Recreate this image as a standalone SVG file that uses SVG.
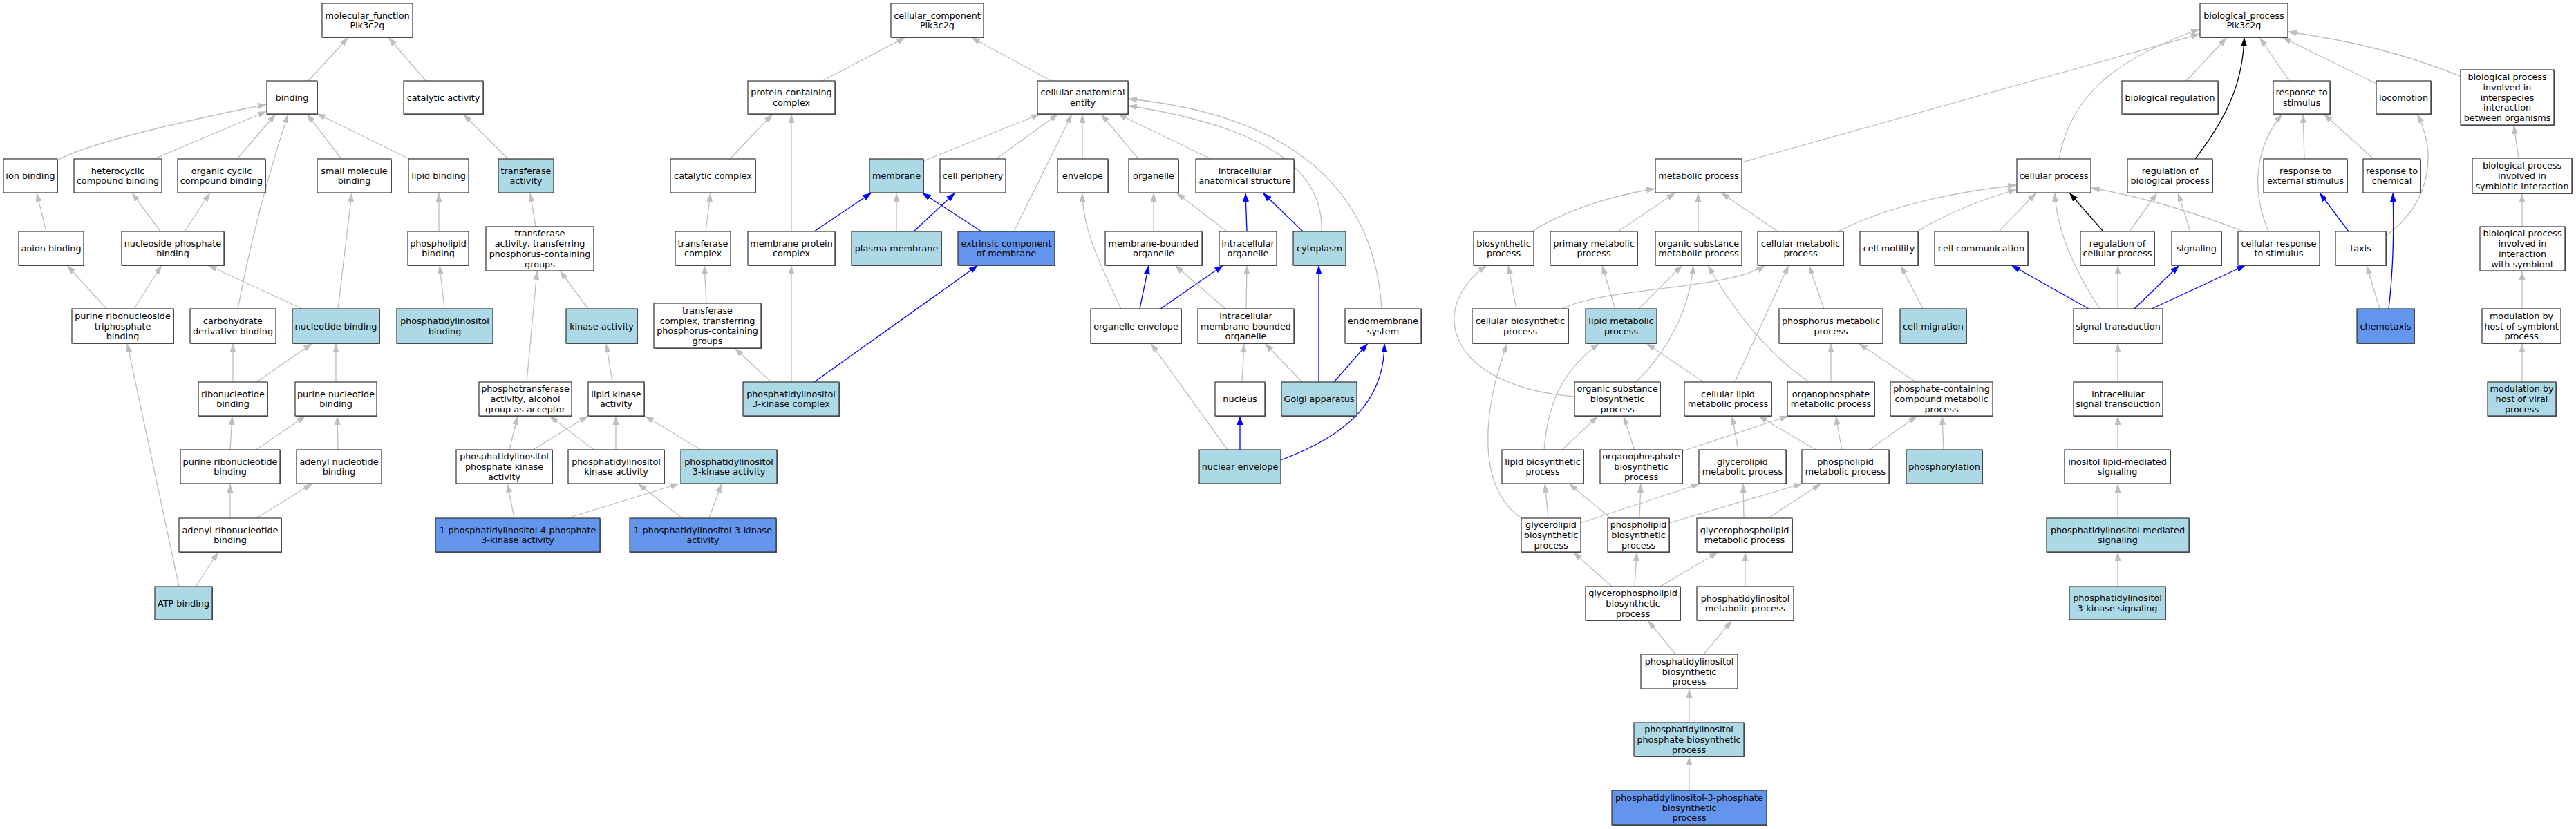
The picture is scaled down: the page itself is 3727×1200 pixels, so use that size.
<svg xmlns="http://www.w3.org/2000/svg" width="3727" height="1200" viewBox="0 0 3727 1200">
<style>
.s{fill:#666666}
.b{stroke:#333333;stroke-width:1.2}
.w{fill:#ffffff}.lb{fill:#add8e6}.cf{fill:#6495ed}
text{font-family:"DejaVu Sans","Liberation Sans",sans-serif;font-size:12.8px;text-anchor:middle;fill:#000}
.e{fill:none;stroke:#bebebe;stroke-width:1.3;marker-end:url(#ag)}
.bl{fill:none;stroke:#0000ff;stroke-width:1.3;marker-end:url(#ab)}
.k{fill:none;stroke:#000000;stroke-width:1.3;marker-end:url(#ak)}
</style>
<defs>
<marker id="ag" viewBox="0 0 13 9" refX="13" refY="4.5" markerWidth="13" markerHeight="9" markerUnits="userSpaceOnUse" orient="auto"><path d="M0,0L13,4.5L0,9z" fill="#bebebe"/></marker>
<marker id="ab" viewBox="0 0 13 9" refX="13" refY="4.5" markerWidth="13" markerHeight="9" markerUnits="userSpaceOnUse" orient="auto"><path d="M0,0L13,4.5L0,9z" fill="#0000ff"/></marker>
<marker id="ak" viewBox="0 0 13 9" refX="13" refY="4.5" markerWidth="13" markerHeight="9" markerUnits="userSpaceOnUse" orient="auto"><path d="M0,0L13,4.5L0,9z" fill="#000000"/></marker>
</defs>
<rect width="3727" height="1200" fill="#ffffff"/>
<g id="edges">
<path class="e" d="M446,117L504,54"/>
<path class="e" d="M616,117L562,54"/>
<path class="e" d="M83,232C130,205 300,168 386,151"/>
<path class="e" d="M223,230L386,161"/>
<path class="e" d="M343,230L399,165"/>
<path class="e" d="M344,447Q372,300 417,165"/>
<path class="e" d="M494,230L444,165"/>
<path class="e" d="M592,230L458,164"/>
<path class="e" d="M735,230L670,165"/>
<path class="e" d="M67,335L53,279"/>
<path class="e" d="M232,335L191,279"/>
<path class="e" d="M267,335L304,279"/>
<path class="e" d="M489,447L509,279"/>
<path class="e" d="M635,335L635,279"/>
<path class="e" d="M775,328L767,279"/>
<path class="e" d="M154,447L97,384"/>
<path class="e" d="M194,447L234,384"/>
<path class="e" d="M437,447L301,384"/>
<path class="e" d="M643,447L636,384"/>
<path class="e" d="M851,447L810,392"/>
<path class="e" d="M762,553L777,392"/>
<path class="e" d="M337,553L337,497"/>
<path class="e" d="M371,553L452,497"/>
<path class="e" d="M486,553L486,497"/>
<path class="e" d="M886,553L877,497"/>
<path class="e" d="M259,849L184,497"/>
<path class="e" d="M333,651L336,602"/>
<path class="e" d="M371,651L442,602"/>
<path class="e" d="M489,651L488,602"/>
<path class="e" d="M737,651L749,602"/>
<path class="e" d="M859,651L795,602"/>
<path class="e" d="M771,651L851,602"/>
<path class="e" d="M891,651L891,602"/>
<path class="e" d="M1014,651L933,602"/>
<path class="e" d="M333,750L333,700"/>
<path class="e" d="M371,750L452,700"/>
<path class="e" d="M283,849L316,799"/>
<path class="e" d="M744,750L734,700"/>
<path class="e" d="M821,750L983,700"/>
<path class="e" d="M987,750L923,700"/>
<path class="e" d="M1026,750L1044,700"/>
<path class="e" d="M1190,117L1310,54"/>
<path class="e" d="M1521,117L1405,54"/>
<path class="e" d="M1056,230L1118,165"/>
<path class="e" d="M1145,335L1145,165"/>
<path class="e" d="M1021,335L1028,279"/>
<path class="e" d="M1022,439L1019,384"/>
<path class="e" d="M1116,553L1063,504"/>
<path class="e" d="M1145,553L1145,384"/>
<path class="bl" d="M1178,553L1415,384"/>
<path class="bl" d="M1178,335L1261,279"/>
<path class="e" d="M1336,233L1505,165"/>
<path class="e" d="M1441,230L1531,165"/>
<path class="e" d="M1467,335L1551,165"/>
<path class="e" d="M1566,230L1566,165"/>
<path class="e" d="M1647,230L1593,165"/>
<path class="e" d="M1752,230L1617,165"/>
<path class="e" d="M1912,335C1915,250 1840,185 1632,153"/>
<path class="e" d="M1999,447C1990,300 1900,170 1632,143"/>
<path class="e" d="M1297,335L1297,279"/>
<path class="bl" d="M1322,335L1382,279"/>
<path class="bl" d="M1420,335L1334,279"/>
<path class="e" d="M1669,335L1669,279"/>
<path class="e" d="M1775,335L1702,279"/>
<path class="bl" d="M1804,335L1802,279"/>
<path class="bl" d="M1885,335L1827,279"/>
<path class="e" d="M1622,447C1590,380 1566,330 1566,279"/>
<path class="bl" d="M1649,447L1662,384"/>
<path class="bl" d="M1679,447L1770,384"/>
<path class="e" d="M1773,447L1700,384"/>
<path class="e" d="M1803,447L1804,384"/>
<path class="bl" d="M1908,553L1908,384"/>
<path class="bl" d="M1930,553L1979,497"/>
<path class="bl" d="M1853,666C1950,630 2003,580 2003,497"/>
<path class="e" d="M1797,553L1800,497"/>
<path class="e" d="M1884,553L1830,497"/>
<path class="bl" d="M1794,651L1794,602"/>
<path class="e" d="M1776,651L1665,497"/>
<path class="e" d="M2520,235L3183,49"/>
<path class="e" d="M2979,230C2995,140 3060,85 3183,42"/>
<path class="e" d="M3163,117L3222,54"/>
<path class="k" d="M3176,230C3230,160 3245,110 3247,54"/>
<path class="e" d="M3312,117L3269,54"/>
<path class="e" d="M3438,121L3302,54"/>
<path class="e" d="M3561,111Q3450,65 3310,46"/>
<path class="e" d="M2216,335Q2290,290 2395,273"/>
<path class="e" d="M2341,335L2424,279"/>
<path class="e" d="M2457,335L2457,279"/>
<path class="e" d="M2572,335L2490,279"/>
<path class="e" d="M2659,335Q2760,285 2918,268"/>
<path class="e" d="M2774,335Q2830,300 2918,274"/>
<path class="e" d="M2892,335L2946,279"/>
<path class="e" d="M3038,447C3000,390 2975,330 2973,279"/>
<path class="k" d="M3043,335L2994,279"/>
<path class="e" d="M3081,335L3121,279"/>
<path class="e" d="M3169,335L3151,279"/>
<path class="e" d="M3246,335Q3130,290 3025,272"/>
<path class="e" d="M3282,335C3255,270 3265,210 3302,165"/>
<path class="e" d="M3334,230L3332,165"/>
<path class="e" d="M3434,230L3362,165"/>
<path class="bl" d="M3398,335L3356,279"/>
<path class="e" d="M3452,341C3510,300 3530,230 3497,165"/>
<path class="bl" d="M3456,447Q3465,370 3462,279"/>
<path class="e" d="M3443,447L3424,384"/>
<path class="e" d="M3644,229L3637,181"/>
<path class="e" d="M3649,328L3649,280"/>
<path class="e" d="M3649,447L3649,392"/>
<path class="e" d="M3649,553L3649,497"/>
<path class="e" d="M2782,447L2750,384"/>
<path class="bl" d="M3022,447L2910,384"/>
<path class="bl" d="M3088,447L3153,384"/>
<path class="bl" d="M3113,447L3249,384"/>
<path class="e" d="M3064,447L3064,384"/>
<path class="e" d="M3064,553L3064,497"/>
<path class="e" d="M3064,651L3064,602"/>
<path class="e" d="M3064,750L3064,700"/>
<path class="e" d="M3064,849L3064,799"/>
<path class="e" d="M2639,447L2617,384"/>
<path class="e" d="M2510,553L2588,384"/>
<path class="e" d="M2258,448C2320,415 2500,420 2554,384"/>
<path class="e" d="M2616,552C2570,520 2520,470 2471,384"/>
<path class="e" d="M2194,448L2182,384"/>
<path class="e" d="M2337,448L2318,384"/>
<path class="e" d="M2370,448L2434,384"/>
<path class="e" d="M2368,552C2420,500 2445,440 2450,384"/>
<path class="e" d="M2278,574C2100,560 2060,450 2151,384"/>
<path class="e" d="M2201,750C2130,700 2150,580 2181,497"/>
<path class="e" d="M2234,651C2240,570 2270,530 2314,497"/>
<path class="e" d="M2259,652L2312,602"/>
<path class="e" d="M2365,652L2349,602"/>
<path class="e" d="M2434,653L2588,602"/>
<path class="e" d="M2515,652L2506,602"/>
<path class="e" d="M2629,652L2544,602"/>
<path class="e" d="M2665,652L2656,602"/>
<path class="e" d="M2703,652L2774,602"/>
<path class="e" d="M2812,651L2810,602"/>
<path class="e" d="M2772,553L2689,497"/>
<path class="e" d="M2649,553L2649,497"/>
<path class="e" d="M2465,553L2382,497"/>
<path class="e" d="M2240,750L2235,700"/>
<path class="e" d="M2287,757L2460,700"/>
<path class="e" d="M2330,750L2270,700"/>
<path class="e" d="M2372,750L2374,700"/>
<path class="e" d="M2415,757L2608,700"/>
<path class="e" d="M2523,750L2522,700"/>
<path class="e" d="M2558,750L2635,700"/>
<path class="e" d="M2332,849L2276,799"/>
<path class="e" d="M2365,849L2368,799"/>
<path class="e" d="M2402,849L2486,799"/>
<path class="e" d="M2525,849L2525,799"/>
<path class="e" d="M2424,947L2384,898"/>
<path class="e" d="M2465,947L2506,898"/>
<path class="e" d="M2444,1046L2444,997"/>
<path class="e" d="M2444,1144L2444,1095"/>
</g>
<g id="mf" class="nd"><rect class="s" x="467" y="6" width="131" height="49"/><rect class="b w" x="466" y="5" width="131" height="49"/><text x="531.5" y="26.6">molecular_function<tspan x="531.5" dy="14.8">Pik3c2g</tspan></text></g>
<g id="binding" class="nd"><rect class="s" x="387" y="118" width="73" height="48"/><rect class="b w" x="386" y="117" width="73" height="48"/><text x="422.5" y="145.5">binding</text></g>
<g id="catact" class="nd"><rect class="s" x="585" y="118" width="115" height="48"/><rect class="b w" x="584" y="117" width="115" height="48"/><text x="641.5" y="145.5">catalytic activity</text></g>
<g id="ionb" class="nd"><rect class="s" x="6" y="231" width="78" height="49"/><rect class="b w" x="5" y="230" width="78" height="49"/><text x="44" y="259">ion binding</text></g>
<g id="hetero" class="nd"><rect class="s" x="108" y="231" width="127" height="49"/><rect class="b w" x="107" y="230" width="127" height="49"/><text x="170.5" y="251.6">heterocyclic<tspan x="170.5" dy="14.8">compound binding</tspan></text></g>
<g id="orgcyc" class="nd"><rect class="s" x="258" y="231" width="127" height="49"/><rect class="b w" x="257" y="230" width="127" height="49"/><text x="320.5" y="251.6">organic cyclic<tspan x="320.5" dy="14.8">compound binding</tspan></text></g>
<g id="smallmol" class="nd"><rect class="s" x="460" y="231" width="107" height="49"/><rect class="b w" x="459" y="230" width="107" height="49"/><text x="512.5" y="251.6">small molecule<tspan x="512.5" dy="14.8">binding</tspan></text></g>
<g id="lipidb" class="nd"><rect class="s" x="592" y="231" width="87" height="49"/><rect class="b w" x="591" y="230" width="87" height="49"/><text x="634.5" y="259">lipid binding</text></g>
<g id="transf" class="nd"><rect class="s" x="722" y="231" width="80" height="49"/><rect class="b lb" x="721" y="230" width="80" height="49"/><text x="761" y="251.6">transferase<tspan x="761" dy="14.8">activity</tspan></text></g>
<g id="anion" class="nd"><rect class="s" x="28" y="336" width="94" height="49"/><rect class="b w" x="27" y="335" width="94" height="49"/><text x="74" y="364">anion binding</text></g>
<g id="nucphos" class="nd"><rect class="s" x="177" y="336" width="148" height="49"/><rect class="b w" x="176" y="335" width="148" height="49"/><text x="250" y="356.6">nucleoside phosphate<tspan x="250" dy="14.8">binding</tspan></text></g>
<g id="phlipb" class="nd"><rect class="s" x="591" y="336" width="88" height="49"/><rect class="b w" x="590" y="335" width="88" height="49"/><text x="634" y="356.6">phospholipid<tspan x="634" dy="14.8">binding</tspan></text></g>
<g id="transfP" class="nd"><rect class="s" x="704" y="329" width="156" height="64"/><rect class="b w" x="703" y="328" width="156" height="64"/><text x="781" y="342.3">transferase<tspan x="781" dy="14.8">activity, transferring</tspan><tspan x="781" dy="14.8">phosphorus-containing</tspan><tspan x="781" dy="14.8">groups</tspan></text></g>
<g id="prtb" class="nd"><rect class="s" x="105" y="448" width="147" height="50"/><rect class="b w" x="104" y="447" width="147" height="50"/><text x="177.5" y="461.7">purine ribonucleoside<tspan x="177.5" dy="14.8">triphosphate</tspan><tspan x="177.5" dy="14.8">binding</tspan></text></g>
<g id="carb" class="nd"><rect class="s" x="276" y="448" width="124" height="50"/><rect class="b w" x="275" y="447" width="124" height="50"/><text x="337" y="469.1">carbohydrate<tspan x="337" dy="14.8">derivative binding</tspan></text></g>
<g id="nucb" class="nd"><rect class="s" x="424" y="448" width="126" height="50"/><rect class="b lb" x="423" y="447" width="126" height="50"/><text x="486" y="476.5">nucleotide binding</text></g>
<g id="pib" class="nd"><rect class="s" x="575" y="448" width="139" height="50"/><rect class="b lb" x="574" y="447" width="139" height="50"/><text x="643.5" y="469.1">phosphatidylinositol<tspan x="643.5" dy="14.8">binding</tspan></text></g>
<g id="kinase" class="nd"><rect class="s" x="820" y="448" width="103" height="50"/><rect class="b lb" x="819" y="447" width="103" height="50"/><text x="870.5" y="476.5">kinase activity</text></g>
<g id="ribonuc" class="nd"><rect class="s" x="288" y="554" width="100" height="49"/><rect class="b w" x="287" y="553" width="100" height="49"/><text x="337" y="574.6">ribonucleotide<tspan x="337" dy="14.8">binding</tspan></text></g>
<g id="purnuc" class="nd"><rect class="s" x="428" y="554" width="118" height="49"/><rect class="b w" x="427" y="553" width="118" height="49"/><text x="486" y="574.6">purine nucleotide<tspan x="486" dy="14.8">binding</tspan></text></g>
<g id="phosphotr" class="nd"><rect class="s" x="694" y="554" width="134" height="49"/><rect class="b w" x="693" y="553" width="134" height="49"/><text x="760" y="567.2">phosphotransferase<tspan x="760" dy="14.8">activity, alcohol</tspan><tspan x="760" dy="14.8">group as acceptor</tspan></text></g>
<g id="lipkin" class="nd"><rect class="s" x="852" y="554" width="81" height="49"/><rect class="b w" x="851" y="553" width="81" height="49"/><text x="891.5" y="574.6">lipid kinase<tspan x="891.5" dy="14.8">activity</tspan></text></g>
<g id="purribo" class="nd"><rect class="s" x="262" y="652" width="144" height="49"/><rect class="b w" x="261" y="651" width="144" height="49"/><text x="333" y="672.6">purine ribonucleotide<tspan x="333" dy="14.8">binding</tspan></text></g>
<g id="adenyl" class="nd"><rect class="s" x="430" y="652" width="123" height="49"/><rect class="b w" x="429" y="651" width="123" height="49"/><text x="490.5" y="672.6">adenyl nucleotide<tspan x="490.5" dy="14.8">binding</tspan></text></g>
<g id="pipk" class="nd"><rect class="s" x="661" y="652" width="139" height="49"/><rect class="b w" x="660" y="651" width="139" height="49"/><text x="729.5" y="665.2">phosphatidylinositol<tspan x="729.5" dy="14.8">phosphate kinase</tspan><tspan x="729.5" dy="14.8">activity</tspan></text></g>
<g id="pik" class="nd"><rect class="s" x="823" y="652" width="139" height="49"/><rect class="b w" x="822" y="651" width="139" height="49"/><text x="891.5" y="672.6">phosphatidylinositol<tspan x="891.5" dy="14.8">kinase activity</tspan></text></g>
<g id="pi3ka" class="nd"><rect class="s" x="986" y="652" width="139" height="49"/><rect class="b lb" x="985" y="651" width="139" height="49"/><text x="1054.5" y="672.6">phosphatidylinositol<tspan x="1054.5" dy="14.8">3-kinase activity</tspan></text></g>
<g id="adenylribo" class="nd"><rect class="s" x="260" y="751" width="148" height="49"/><rect class="b w" x="259" y="750" width="148" height="49"/><text x="333" y="771.6">adenyl ribonucleotide<tspan x="333" dy="14.8">binding</tspan></text></g>
<g id="pi4p3k" class="nd"><rect class="s" x="631" y="751" width="238" height="49"/><rect class="b cf" x="630" y="750" width="238" height="49"/><text x="749" y="771.6">1-phosphatidylinositol-4-phosphate<tspan x="749" dy="14.8">3-kinase activity</tspan></text></g>
<g id="pi3k" class="nd"><rect class="s" x="912" y="751" width="212" height="49"/><rect class="b cf" x="911" y="750" width="212" height="49"/><text x="1017" y="771.6">1-phosphatidylinositol-3-kinase<tspan x="1017" dy="14.8">activity</tspan></text></g>
<g id="atp" class="nd"><rect class="s" x="225" y="850" width="83" height="48"/><rect class="b lb" x="224" y="849" width="83" height="48"/><text x="265.5" y="877.5">ATP binding</text></g>
<g id="cc" class="nd"><rect class="s" x="1290" y="6" width="134" height="49"/><rect class="b w" x="1289" y="5" width="134" height="49"/><text x="1356" y="26.6">cellular_component<tspan x="1356" dy="14.8">Pik3c2g</tspan></text></g>
<g id="pcc" class="nd"><rect class="s" x="1083" y="118" width="126" height="48"/><rect class="b w" x="1082" y="117" width="126" height="48"/><text x="1145" y="138.1">protein-containing<tspan x="1145" dy="14.8">complex</tspan></text></g>
<g id="cae" class="nd"><rect class="s" x="1502" y="118" width="131" height="48"/><rect class="b w" x="1501" y="117" width="131" height="48"/><text x="1566.5" y="138.1">cellular anatomical<tspan x="1566.5" dy="14.8">entity</tspan></text></g>
<g id="catcomp" class="nd"><rect class="s" x="971" y="231" width="123" height="49"/><rect class="b w" x="970" y="230" width="123" height="49"/><text x="1031.5" y="259">catalytic complex</text></g>
<g id="membrane" class="nd"><rect class="s" x="1259" y="231" width="78" height="49"/><rect class="b lb" x="1258" y="230" width="78" height="49"/><text x="1297" y="259">membrane</text></g>
<g id="cellper" class="nd"><rect class="s" x="1361" y="231" width="95" height="49"/><rect class="b w" x="1360" y="230" width="95" height="49"/><text x="1407.5" y="259">cell periphery</text></g>
<g id="envelope" class="nd"><rect class="s" x="1531" y="231" width="73" height="49"/><rect class="b w" x="1530" y="230" width="73" height="49"/><text x="1566.5" y="259">envelope</text></g>
<g id="organelle" class="nd"><rect class="s" x="1634" y="231" width="72" height="49"/><rect class="b w" x="1633" y="230" width="72" height="49"/><text x="1669" y="259">organelle</text></g>
<g id="ias" class="nd"><rect class="s" x="1731" y="231" width="142" height="49"/><rect class="b w" x="1730" y="230" width="142" height="49"/><text x="1801" y="251.6">intracellular<tspan x="1801" dy="14.8">anatomical structure</tspan></text></g>
<g id="transcomp" class="nd"><rect class="s" x="978" y="336" width="80" height="49"/><rect class="b w" x="977" y="335" width="80" height="49"/><text x="1017" y="356.6">transferase<tspan x="1017" dy="14.8">complex</tspan></text></g>
<g id="mpc" class="nd"><rect class="s" x="1083" y="336" width="126" height="49"/><rect class="b w" x="1082" y="335" width="126" height="49"/><text x="1145" y="356.6">membrane protein<tspan x="1145" dy="14.8">complex</tspan></text></g>
<g id="pm" class="nd"><rect class="s" x="1233" y="336" width="130" height="49"/><rect class="b lb" x="1232" y="335" width="130" height="49"/><text x="1297" y="364">plasma membrane</text></g>
<g id="ecm" class="nd"><rect class="s" x="1387" y="336" width="140" height="49"/><rect class="b cf" x="1386" y="335" width="140" height="49"/><text x="1456" y="356.6">extrinsic component<tspan x="1456" dy="14.8">of membrane</tspan></text></g>
<g id="mbo" class="nd"><rect class="s" x="1600" y="336" width="140" height="49"/><rect class="b w" x="1599" y="335" width="140" height="49"/><text x="1669" y="356.6">membrane-bounded<tspan x="1669" dy="14.8">organelle</tspan></text></g>
<g id="io" class="nd"><rect class="s" x="1765" y="336" width="83" height="49"/><rect class="b w" x="1764" y="335" width="83" height="49"/><text x="1805.5" y="356.6">intracellular<tspan x="1805.5" dy="14.8">organelle</tspan></text></g>
<g id="cyto" class="nd"><rect class="s" x="1872" y="336" width="76" height="49"/><rect class="b lb" x="1871" y="335" width="76" height="49"/><text x="1909" y="364">cytoplasm</text></g>
<g id="tcompP" class="nd"><rect class="s" x="947" y="440" width="155" height="65"/><rect class="b w" x="946" y="439" width="155" height="65"/><text x="1023.5" y="453.8">transferase<tspan x="1023.5" dy="14.8">complex, transferring</tspan><tspan x="1023.5" dy="14.8">phosphorus-containing</tspan><tspan x="1023.5" dy="14.8">groups</tspan></text></g>
<g id="oenv" class="nd"><rect class="s" x="1579" y="448" width="131" height="50"/><rect class="b w" x="1578" y="447" width="131" height="50"/><text x="1643.5" y="476.5">organelle envelope</text></g>
<g id="imbo" class="nd"><rect class="s" x="1734" y="448" width="139" height="50"/><rect class="b w" x="1733" y="447" width="139" height="50"/><text x="1802.5" y="461.7">intracellular<tspan x="1802.5" dy="14.8">membrane-bounded</tspan><tspan x="1802.5" dy="14.8">organelle</tspan></text></g>
<g id="endo" class="nd"><rect class="s" x="1947" y="448" width="110" height="50"/><rect class="b w" x="1946" y="447" width="110" height="50"/><text x="2001" y="469.1">endomembrane<tspan x="2001" dy="14.8">system</tspan></text></g>
<g id="pi3kc" class="nd"><rect class="s" x="1076" y="554" width="139" height="49"/><rect class="b lb" x="1075" y="553" width="139" height="49"/><text x="1144.5" y="574.6">phosphatidylinositol<tspan x="1144.5" dy="14.8">3-kinase complex</tspan></text></g>
<g id="nucleus" class="nd"><rect class="s" x="1759" y="554" width="72" height="49"/><rect class="b w" x="1758" y="553" width="72" height="49"/><text x="1794" y="582">nucleus</text></g>
<g id="golgi" class="nd"><rect class="s" x="1855" y="554" width="109" height="49"/><rect class="b lb" x="1854" y="553" width="109" height="49"/><text x="1908.5" y="582">Golgi apparatus</text></g>
<g id="nenv" class="nd"><rect class="s" x="1736" y="652" width="118" height="49"/><rect class="b lb" x="1735" y="651" width="118" height="49"/><text x="1794" y="680">nuclear envelope</text></g>
<g id="bp" class="nd"><rect class="s" x="3184" y="6" width="127" height="49"/><rect class="b w" x="3183" y="5" width="127" height="49"/><text x="3246.5" y="26.6">biological_process<tspan x="3246.5" dy="14.8">Pik3c2g</tspan></text></g>
<g id="bioreg" class="nd"><rect class="s" x="3071" y="118" width="139" height="48"/><rect class="b w" x="3070" y="117" width="139" height="48"/><text x="3139.5" y="145.5">biological regulation</text></g>
<g id="rts" class="nd"><rect class="s" x="3290" y="118" width="82" height="48"/><rect class="b w" x="3289" y="117" width="82" height="48"/><text x="3330" y="138.1">response to<tspan x="3330" dy="14.8">stimulus</tspan></text></g>
<g id="locom" class="nd"><rect class="s" x="3439" y="118" width="79" height="48"/><rect class="b w" x="3438" y="117" width="79" height="48"/><text x="3477.5" y="145.5">locomotion</text></g>
<g id="interspecies" class="nd"><rect class="s" x="3561" y="102" width="135" height="80"/><rect class="b w" x="3560" y="101" width="135" height="80"/><text x="3627.5" y="115.9">biological process<tspan x="3627.5" dy="14.8">involved in</tspan><tspan x="3627.5" dy="14.8">interspecies</tspan><tspan x="3627.5" dy="14.8">interaction</tspan><tspan x="3627.5" dy="14.8">between organisms</tspan></text></g>
<g id="metab" class="nd"><rect class="s" x="2396" y="231" width="125" height="49"/><rect class="b w" x="2395" y="230" width="125" height="49"/><text x="2457.5" y="259">metabolic process</text></g>
<g id="cellproc" class="nd"><rect class="s" x="2919" y="231" width="107" height="49"/><rect class="b w" x="2918" y="230" width="107" height="49"/><text x="2971.5" y="259">cellular process</text></g>
<g id="regbio" class="nd"><rect class="s" x="3079" y="231" width="123" height="49"/><rect class="b w" x="3078" y="230" width="123" height="49"/><text x="3139.5" y="251.6">regulation of<tspan x="3139.5" dy="14.8">biological process</tspan></text></g>
<g id="rtes" class="nd"><rect class="s" x="3276" y="231" width="121" height="49"/><rect class="b w" x="3275" y="230" width="121" height="49"/><text x="3335.5" y="251.6">response to<tspan x="3335.5" dy="14.8">external stimulus</tspan></text></g>
<g id="rtc" class="nd"><rect class="s" x="3420" y="231" width="83" height="49"/><rect class="b w" x="3419" y="230" width="83" height="49"/><text x="3460.5" y="251.6">response to<tspan x="3460.5" dy="14.8">chemical</tspan></text></g>
<g id="symb" class="nd"><rect class="s" x="3578" y="230" width="144" height="51"/><rect class="b w" x="3577" y="229" width="144" height="51"/><text x="3649" y="244.2">biological process<tspan x="3649" dy="14.8">involved in</tspan><tspan x="3649" dy="14.8">symbiotic interaction</tspan></text></g>
<g id="biosyn" class="nd"><rect class="s" x="2133" y="336" width="87" height="49"/><rect class="b w" x="2132" y="335" width="87" height="49"/><text x="2175.5" y="356.6">biosynthetic<tspan x="2175.5" dy="14.8">process</tspan></text></g>
<g id="primary" class="nd"><rect class="s" x="2244" y="336" width="126" height="49"/><rect class="b w" x="2243" y="335" width="126" height="49"/><text x="2306" y="356.6">primary metabolic<tspan x="2306" dy="14.8">process</tspan></text></g>
<g id="osmp" class="nd"><rect class="s" x="2396" y="336" width="125" height="49"/><rect class="b w" x="2395" y="335" width="125" height="49"/><text x="2457.5" y="356.6">organic substance<tspan x="2457.5" dy="14.8">metabolic process</tspan></text></g>
<g id="cmp" class="nd"><rect class="s" x="2544" y="336" width="124" height="49"/><rect class="b w" x="2543" y="335" width="124" height="49"/><text x="2605" y="356.6">cellular metabolic<tspan x="2605" dy="14.8">process</tspan></text></g>
<g id="cellmot" class="nd"><rect class="s" x="2692" y="336" width="84" height="49"/><rect class="b w" x="2691" y="335" width="84" height="49"/><text x="2733" y="364">cell motility</text></g>
<g id="cellcomm" class="nd"><rect class="s" x="2800" y="336" width="135" height="49"/><rect class="b w" x="2799" y="335" width="135" height="49"/><text x="2866.5" y="364">cell communication</text></g>
<g id="regcell" class="nd"><rect class="s" x="3011" y="336" width="107" height="49"/><rect class="b w" x="3010" y="335" width="107" height="49"/><text x="3063.5" y="356.6">regulation of<tspan x="3063.5" dy="14.8">cellular process</tspan></text></g>
<g id="signaling" class="nd"><rect class="s" x="3143" y="336" width="72" height="49"/><rect class="b w" x="3142" y="335" width="72" height="49"/><text x="3178" y="364">signaling</text></g>
<g id="crs" class="nd"><rect class="s" x="3239" y="336" width="118" height="49"/><rect class="b w" x="3238" y="335" width="118" height="49"/><text x="3297" y="356.6">cellular response<tspan x="3297" dy="14.8">to stimulus</tspan></text></g>
<g id="taxis" class="nd"><rect class="s" x="3380" y="336" width="73" height="49"/><rect class="b w" x="3379" y="335" width="73" height="49"/><text x="3415.5" y="364">taxis</text></g>
<g id="intsymb" class="nd"><rect class="s" x="3589" y="329" width="123" height="64"/><rect class="b w" x="3588" y="328" width="123" height="64"/><text x="3649.5" y="342.3">biological process<tspan x="3649.5" dy="14.8">involved in</tspan><tspan x="3649.5" dy="14.8">interaction</tspan><tspan x="3649.5" dy="14.8">with symbiont</tspan></text></g>
<g id="cbp" class="nd"><rect class="s" x="2131" y="448" width="139" height="50"/><rect class="b w" x="2130" y="447" width="139" height="50"/><text x="2199.5" y="469.1">cellular biosynthetic<tspan x="2199.5" dy="14.8">process</tspan></text></g>
<g id="lmp" class="nd"><rect class="s" x="2295" y="448" width="103" height="50"/><rect class="b lb" x="2294" y="447" width="103" height="50"/><text x="2345.5" y="469.1">lipid metabolic<tspan x="2345.5" dy="14.8">process</tspan></text></g>
<g id="phosmp" class="nd"><rect class="s" x="2575" y="448" width="150" height="50"/><rect class="b w" x="2574" y="447" width="150" height="50"/><text x="2649" y="469.1">phosphorus metabolic<tspan x="2649" dy="14.8">process</tspan></text></g>
<g id="cellmig" class="nd"><rect class="s" x="2750" y="448" width="96" height="50"/><rect class="b lb" x="2749" y="447" width="96" height="50"/><text x="2797" y="476.5">cell migration</text></g>
<g id="sigtrans" class="nd"><rect class="s" x="3001" y="448" width="129" height="50"/><rect class="b w" x="3000" y="447" width="129" height="50"/><text x="3064.5" y="476.5">signal transduction</text></g>
<g id="chemotaxis" class="nd"><rect class="s" x="3411" y="448" width="83" height="50"/><rect class="b cf" x="3410" y="447" width="83" height="50"/><text x="3451.5" y="476.5">chemotaxis</text></g>
<g id="modsymb" class="nd"><rect class="s" x="3592" y="448" width="114" height="50"/><rect class="b w" x="3591" y="447" width="114" height="50"/><text x="3648" y="461.7">modulation by<tspan x="3648" dy="14.8">host of symbiont</tspan><tspan x="3648" dy="14.8">process</tspan></text></g>
<g id="osbp" class="nd"><rect class="s" x="2279" y="554" width="124" height="49"/><rect class="b w" x="2278" y="553" width="124" height="49"/><text x="2340" y="567.2">organic substance<tspan x="2340" dy="14.8">biosynthetic</tspan><tspan x="2340" dy="14.8">process</tspan></text></g>
<g id="clmp" class="nd"><rect class="s" x="2438" y="554" width="126" height="49"/><rect class="b w" x="2437" y="553" width="126" height="49"/><text x="2500" y="574.6">cellular lipid<tspan x="2500" dy="14.8">metabolic process</tspan></text></g>
<g id="opmp" class="nd"><rect class="s" x="2587" y="554" width="126" height="49"/><rect class="b w" x="2586" y="553" width="126" height="49"/><text x="2649" y="574.6">organophosphate<tspan x="2649" dy="14.8">metabolic process</tspan></text></g>
<g id="pcmp" class="nd"><rect class="s" x="2736" y="554" width="148" height="49"/><rect class="b w" x="2735" y="553" width="148" height="49"/><text x="2809" y="567.2">phosphate-containing<tspan x="2809" dy="14.8">compound metabolic</tspan><tspan x="2809" dy="14.8">process</tspan></text></g>
<g id="ist" class="nd"><rect class="s" x="3001" y="554" width="129" height="49"/><rect class="b w" x="3000" y="553" width="129" height="49"/><text x="3064.5" y="574.6">intracellular<tspan x="3064.5" dy="14.8">signal transduction</tspan></text></g>
<g id="modviral" class="nd"><rect class="s" x="3600" y="554" width="99" height="49"/><rect class="b lb" x="3599" y="553" width="99" height="49"/><text x="3648.5" y="567.2">modulation by<tspan x="3648.5" dy="14.8">host of viral</tspan><tspan x="3648.5" dy="14.8">process</tspan></text></g>
<g id="lbp" class="nd"><rect class="s" x="2174" y="652" width="118" height="49"/><rect class="b w" x="2173" y="651" width="118" height="49"/><text x="2232" y="672.6">lipid biosynthetic<tspan x="2232" dy="14.8">process</tspan></text></g>
<g id="opbp" class="nd"><rect class="s" x="2316" y="652" width="119" height="49"/><rect class="b w" x="2315" y="651" width="119" height="49"/><text x="2374.5" y="665.2">organophosphate<tspan x="2374.5" dy="14.8">biosynthetic</tspan><tspan x="2374.5" dy="14.8">process</tspan></text></g>
<g id="glmp" class="nd"><rect class="s" x="2459" y="652" width="126" height="49"/><rect class="b w" x="2458" y="651" width="126" height="49"/><text x="2521" y="672.6">glycerolipid<tspan x="2521" dy="14.8">metabolic process</tspan></text></g>
<g id="plmp" class="nd"><rect class="s" x="2608" y="652" width="126" height="49"/><rect class="b w" x="2607" y="651" width="126" height="49"/><text x="2670" y="672.6">phospholipid<tspan x="2670" dy="14.8">metabolic process</tspan></text></g>
<g id="phosph" class="nd"><rect class="s" x="2759" y="652" width="110" height="49"/><rect class="b lb" x="2758" y="651" width="110" height="49"/><text x="2813" y="680">phosphorylation</text></g>
<g id="ilms" class="nd"><rect class="s" x="2988" y="652" width="153" height="49"/><rect class="b w" x="2987" y="651" width="153" height="49"/><text x="3063.5" y="672.6">inositol lipid-mediated<tspan x="3063.5" dy="14.8">signaling</tspan></text></g>
<g id="glbp" class="nd"><rect class="s" x="2202" y="751" width="86" height="49"/><rect class="b w" x="2201" y="750" width="86" height="49"/><text x="2244" y="764.2">glycerolipid<tspan x="2244" dy="14.8">biosynthetic</tspan><tspan x="2244" dy="14.8">process</tspan></text></g>
<g id="plbp" class="nd"><rect class="s" x="2327" y="751" width="89" height="49"/><rect class="b w" x="2326" y="750" width="89" height="49"/><text x="2370.5" y="764.2">phospholipid<tspan x="2370.5" dy="14.8">biosynthetic</tspan><tspan x="2370.5" dy="14.8">process</tspan></text></g>
<g id="gpmp" class="nd"><rect class="s" x="2456" y="751" width="138" height="49"/><rect class="b w" x="2455" y="750" width="138" height="49"/><text x="2524" y="771.6">glycerophospholipid<tspan x="2524" dy="14.8">metabolic process</tspan></text></g>
<g id="pims" class="nd"><rect class="s" x="2962" y="751" width="206" height="49"/><rect class="b lb" x="2961" y="750" width="206" height="49"/><text x="3064" y="771.6">phosphatidylinositol-mediated<tspan x="3064" dy="14.8">signaling</tspan></text></g>
<g id="gpbp" class="nd"><rect class="s" x="2295" y="850" width="137" height="49"/><rect class="b w" x="2294" y="849" width="137" height="49"/><text x="2362.5" y="863.2">glycerophospholipid<tspan x="2362.5" dy="14.8">biosynthetic</tspan><tspan x="2362.5" dy="14.8">process</tspan></text></g>
<g id="pimp" class="nd"><rect class="s" x="2456" y="850" width="140" height="49"/><rect class="b w" x="2455" y="849" width="140" height="49"/><text x="2525" y="870.6">phosphatidylinositol<tspan x="2525" dy="14.8">metabolic process</tspan></text></g>
<g id="pi3ks" class="nd"><rect class="s" x="2995" y="850" width="139" height="48"/><rect class="b lb" x="2994" y="849" width="139" height="48"/><text x="3063.5" y="870.1">phosphatidylinositol<tspan x="3063.5" dy="14.8">3-kinase signaling</tspan></text></g>
<g id="pibp" class="nd"><rect class="s" x="2375" y="948" width="140" height="50"/><rect class="b w" x="2374" y="947" width="140" height="50"/><text x="2444" y="961.7">phosphatidylinositol<tspan x="2444" dy="14.8">biosynthetic</tspan><tspan x="2444" dy="14.8">process</tspan></text></g>
<g id="pipbp" class="nd"><rect class="s" x="2365" y="1047" width="159" height="49"/><rect class="b lb" x="2364" y="1046" width="159" height="49"/><text x="2443.5" y="1060.2">phosphatidylinositol<tspan x="2443.5" dy="14.8">phosphate biosynthetic</tspan><tspan x="2443.5" dy="14.8">process</tspan></text></g>
<g id="pi3pbp" class="nd"><rect class="s" x="2333" y="1145" width="224" height="50"/><rect class="b cf" x="2332" y="1144" width="224" height="50"/><text x="2444" y="1158.7">phosphatidylinositol-3-phosphate<tspan x="2444" dy="14.8">biosynthetic</tspan><tspan x="2444" dy="14.8">process</tspan></text></g>
</svg>
